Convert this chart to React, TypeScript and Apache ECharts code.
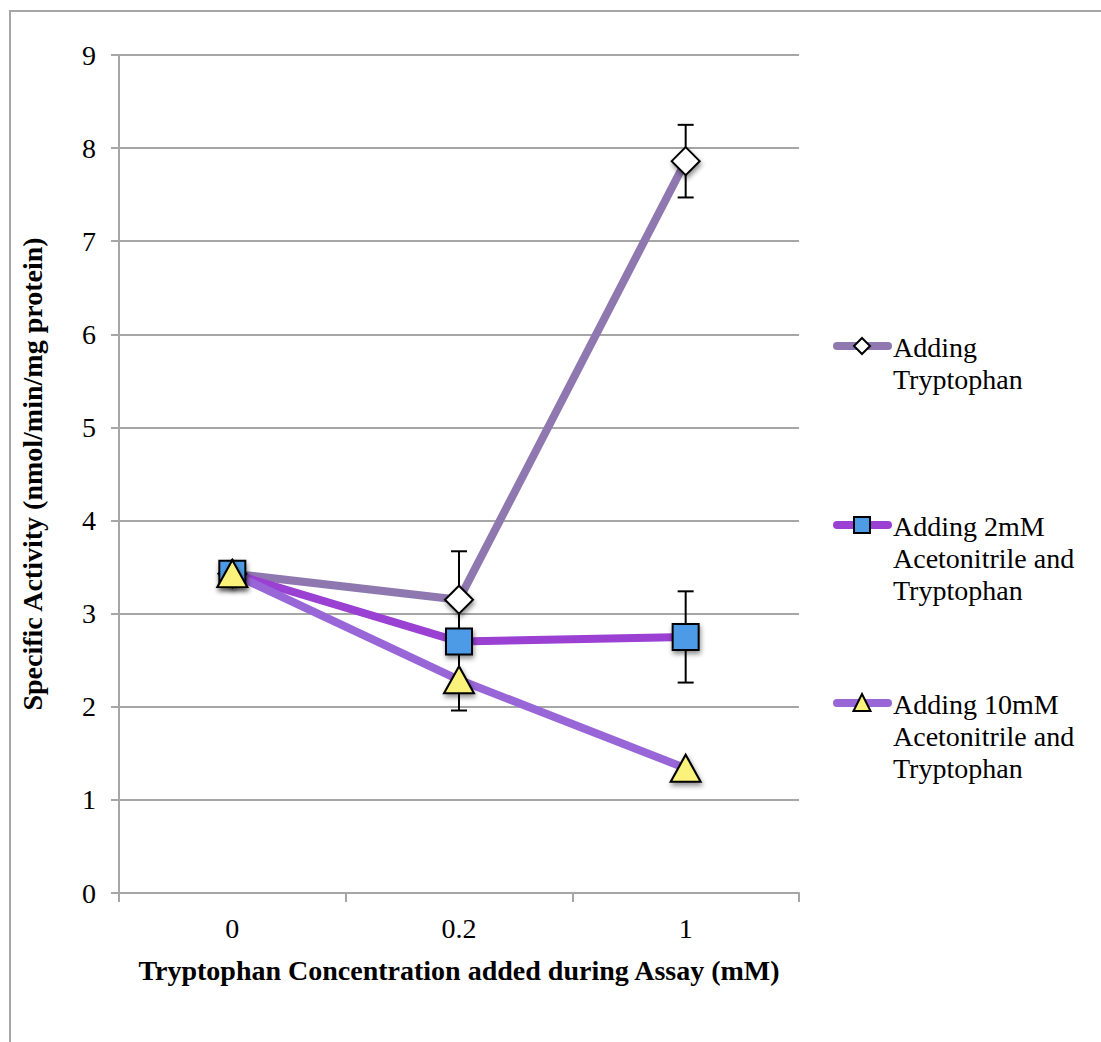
import React, { useEffect, useRef } from "react";
import * as echarts from "echarts";

// Tryptophan concentration added during the assay (mM)
const categories = ["0", "0.2", "1"];

const seriesNames = [
  "Adding\nTryptophan",
  "Adding 2mM\nAcetonitrile and\nTryptophan",
  "Adding 10mM\nAcetonitrile and\nTryptophan",
];

// Specific activity (nmol/min/mg protein) and error (±)
const tryptophanValues = [3.43, 3.15, 7.86];
const tryptophanErrors = [0, 0.52, 0.39];
const acn2Values = [3.43, 2.7, 2.75];
const acn2Errors = [0, 0, 0.49];
const acn10Values = [3.43, 2.29, 1.34];
const acn10Errors = [0, 0.33, 0];

const yMin = 0;
const yMax = 9;
const yInterval = 1;

const FONT = "'Liberation Serif', 'Times New Roman', serif";
const FONT_SIZE = 28;
const GRID_COLOR = "#A6A6A6";

const lineColors = ["#8F78B0", "#9A40D2", "#9966D8"];
const markerFills = ["#FFFFFF", "#4E9BE6", "#FAF27A"];
const markerSymbols = ["diamond", "rect", "triangle"];
const markerSizes: any[] = [28, 26, [30, 27]];

const valueSets = [tryptophanValues, acn2Values, acn10Values];
const errorSets = [tryptophanErrors, acn2Errors, acn10Errors];

const markerShadow = {
  shadowBlur: 5,
  shadowColor: "rgba(0,0,0,0.45)",
  shadowOffsetX: 1,
  shadowOffsetY: 3,
};

function errorBarRender(params: any, api: any) {
  const x = api.value(0);
  const v = api.value(1);
  const e = api.value(2);
  if (!e) return { type: "group", children: [] };
  const top = api.coord([x, v + e]);
  const bot = api.coord([x, v - e]);
  const hw = 8;
  const style = { stroke: "#000", lineWidth: 2 };
  return {
    type: "group",
    children: [
      { type: "line", shape: { x1: top[0], y1: top[1], x2: bot[0], y2: bot[1] }, style },
      { type: "line", shape: { x1: top[0] - hw, y1: top[1], x2: top[0] + hw, y2: top[1] }, style },
      { type: "line", shape: { x1: bot[0] - hw, y1: bot[1], x2: bot[0] + hw, y2: bot[1] }, style },
    ],
  };
}

function legendMarker(i: number, cx: number, cy: number) {
  const style = { fill: markerFills[i], stroke: "#000", lineWidth: 2 };
  if (i === 0) {
    const r = 8;
    return {
      type: "polygon",
      shape: { points: [[cx, cy - r], [cx + r, cy], [cx, cy + r], [cx - r, cy]] },
      style,
      z: 101,
    };
  }
  if (i === 1) {
    return { type: "rect", shape: { x: cx - 8, y: cy - 8, width: 16, height: 16 }, style, z: 101 };
  }
  return {
    type: "polygon",
    shape: { points: [[cx, cy - 9], [cx + 8.5, cy + 8], [cx - 8.5, cy + 8]] },
    style,
    z: 101,
  };
}

export default function App() {
  const ref = useRef<HTMLDivElement>(null);

  useEffect(() => {
    if (!ref.current) return;
    const chart = echarts.init(ref.current, undefined, { renderer: "svg" });

    const legendRows = [346, 525, 703];
    const legendGraphics: any[] = [];
    seriesNames.forEach((name, i) => {
      const y = legendRows[i];
      legendGraphics.push({
        type: "line",
        shape: { x1: 837, y1: y, x2: 888, y2: y },
        style: { stroke: lineColors[i], lineWidth: 8, lineCap: "round" },
        z: 100,
      });
      legendGraphics.push(legendMarker(i, 862, y));
      legendGraphics.push({
        type: "text",
        x: 893,
        y: y - 15,
        style: {
          text: name,
          font: `${FONT_SIZE}px ${FONT}`,
          fill: "#000",
          lineHeight: 32,
          verticalAlign: "top",
          align: "left",
        },
        z: 100,
      });
    });

    const lineSeries = valueSets.map((vals, i) => ({
      type: "line",
      name: seriesNames[i],
      data: vals,
      showSymbol: false,
      symbol: "none",
      lineStyle: { color: lineColors[i], width: 8 },
      z: 2,
      silent: true,
    }));

    const errorSeries = errorSets.map((errs, i) => ({
      type: "custom",
      renderItem: errorBarRender,
      data: errs.map((e, j) => [j, valueSets[i][j], e]),
      encode: { x: 0, y: 1 },
      z: 3,
      silent: true,
    }));

    const markerSeries = valueSets.map((vals, i) => ({
      type: "scatter",
      data: vals,
      symbol: markerSymbols[i],
      symbolSize: markerSizes[i],
      itemStyle: {
        color: markerFills[i],
        borderColor: "#000",
        borderWidth: 2,
        opacity: 1,
        ...markerShadow,
      },
      z: 4 + i,
      silent: true,
    }));

    chart.setOption({
      animation: false,
      backgroundColor: "#FFFFFF",
      grid: { left: 119, top: 55, width: 680, height: 838, containLabel: false },
      xAxis: {
        type: "category",
        data: categories,
        boundaryGap: true,
        name: "Tryptophan Concentration added during Assay (mM)",
        nameLocation: "middle",
        nameGap: 63,
        nameTextStyle: { fontFamily: FONT, fontWeight: "bold", fontSize: FONT_SIZE, color: "#000" },
        axisLine: { show: true, lineStyle: { color: GRID_COLOR, width: 2 } },
        axisTick: { show: true, length: 9, lineStyle: { color: GRID_COLOR, width: 2 } },
        axisLabel: { fontFamily: FONT, fontSize: FONT_SIZE, color: "#000", margin: 21 },
        splitLine: { show: false },
      },
      yAxis: {
        type: "value",
        min: yMin,
        max: yMax,
        interval: yInterval,
        name: "Specific Activity (nmol/min/mg protein)",
        nameLocation: "middle",
        nameGap: 73,
        nameTextStyle: { fontFamily: FONT, fontWeight: "bold", fontSize: FONT_SIZE, color: "#000" },
        axisLine: { show: true, lineStyle: { color: GRID_COLOR, width: 2 } },
        axisTick: { show: true, length: 8, lineStyle: { color: GRID_COLOR, width: 2 } },
        axisLabel: { fontFamily: FONT, fontSize: FONT_SIZE, color: "#000", margin: 23 },
        splitLine: { show: true, lineStyle: { color: GRID_COLOR, width: 2 } },
      },
      graphic: [
        {
          type: "rect",
          shape: { x: 10, y: 11, width: 1200, height: 1200 },
          style: { fill: "none", stroke: GRID_COLOR, lineWidth: 2 },
          z: 0,
          silent: true,
        },
        ...legendGraphics,
      ],
      series: [...lineSeries, ...errorSeries, ...markerSeries],
    });

    return () => chart.dispose();
  }, []);

  return (
    <div
      ref={ref}
      style={{ position: "fixed", left: 0, top: 0, width: 1101, height: 1042, background: "#fff" }}
    />
  );
}
